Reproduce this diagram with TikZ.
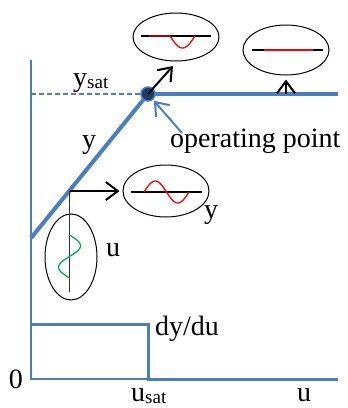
\documentclass[tikz,border=0pt]{standalone}
\usepackage{fontspec}
\setmainfont{Liberation Serif}
\usetikzlibrary{arrows.meta,shapes.geometric}
\definecolor{axblue}{RGB}{74,126,193}
\definecolor{ptblue}{RGB}{31,60,105}
\definecolor{sgreen}{RGB}{0,176,80}
\begin{document}
\begin{tikzpicture}[x=1pt,y=-1pt,
  axis/.style={draw=axblue,line width=2pt},
  curvethick/.style={draw=axblue,line width=4pt},
  bub/.style={ellipse,draw=black,line width=1pt,inner sep=0pt},
  blk/.style={-{Straight Barb[length=12pt,width=18pt,line width=2pt]},line width=2pt,black},
  bluearr/.style={-{Straight Barb[length=12pt,width=18pt,line width=2pt]},line width=2pt,axblue},
  inline/.style={line width=1.3pt,black},
  sig/.style={line width=1.3pt,red},
  gsig/.style={line width=1.3pt,sgreen},
  lbl/.style={font=\fontsize{28}{30}\selectfont,inner sep=0pt}]
\useasboundingbox (0,0) rectangle (348,408);
% coordinates
\coordinate (O) at (31,379);
\coordinate (Ytop) at (31,60);
\coordinate (Xend) at (338,379);
\coordinate (opc) at (148,94);
\coordinate (d0) at (31,238);
\coordinate (satend) at (338,94);
\coordinate (dash0) at (31,94);
\coordinate (dd0) at (31,324);
\coordinate (dd1) at (148,324);
\coordinate (dd2) at (148,379);
\coordinate (tap) at (69.5,191);
\coordinate (vbot) at (69.5,292);
\coordinate (a1) at (173,66);
\coordinate (a2s) at (286,94);
\coordinate (bs) at (182,133);
% axes
\draw[axis] (Ytop) -- (O) -- (Xend);
\draw[draw=axblue,line width=3pt] (dd0) -- (dd1) -- (dd2) -- (Xend);
\draw[draw=axblue,line width=1.5pt,dash pattern=on 5pt off 3pt] (dash0) -- (opc);
\draw[curvethick] (opc) -- (satend);
\draw[curvethick] (d0) -- (opc);
% ellipses
\node[bub,minimum width=86pt,minimum height=48pt] (top) at (176,37) {};
\node[bub,minimum width=86pt,minimum height=50pt] (right) at (286,50) {};
\node[bub,minimum width=86pt,minimum height=52pt] (mid) at (166,191) {};
\node[bub,minimum width=52pt,minimum height=86pt] (vert) at (71,257) {};
% operating point
\node[circle,fill=ptblue,draw=axblue,line width=1.5pt,minimum size=14pt,inner sep=0pt] (op) at (opc) {};
% black arrows
\draw[blk] (op.center) -- (a1);
\draw[blk,shorten >=4pt] (a2s) -- (right.south);
\draw[blk,shorten >=3pt] (tap) -- (mid.west);
\draw[line width=1.3pt,black!80] (tap) -- (vbot);
% blue arrow
\draw[bluearr,shorten >=9pt] (bs) -- (op.center);
% signals
\draw[inline] (141,36) -- (211,36);
\draw[sig] (149,36) -- (170,36) -- plot[domain=0:180,samples=30] ({170+\x/180*25},{36+12*sin(\x)});
\draw[inline] (252,50) -- (323,50);
\draw[sig] (264,50) -- (313,50);
\draw[inline] (131,192) -- (202,192);
\draw[sig] plot[domain=0:360,samples=50] ({144+\x/360*45},{192-11*sin(\x)});
\draw[gsig] plot[domain=0:360,samples=50] ({69.5+11*sin(\x)},{235+\x/360*43});
% labels
\node[lbl,anchor=base west] (ysat) at (73,86) {y\raisebox{-2pt}{\fontsize{19}{19}\selectfont sat}};
\node[lbl,anchor=base west] (ylab) at (82,148) {y};
\node[lbl,anchor=base west] (opl) at (170,147) {operating point};
\node[lbl,anchor=base west] (ymid) at (204,218) {y};
\node[lbl,anchor=base west] (ulab) at (106,256) {u};
\node[lbl,anchor=base west] (dydu) at (155,335) {dy/du};
\node[lbl,anchor=base east] (zero) at (23,388) {0};
\node[lbl,anchor=base west] (usat) at (131,401) {u\raisebox{-2pt}{\fontsize{19}{19}\selectfont sat}};
\node[lbl,anchor=base west] (ulab2) at (297,401) {u};
\end{tikzpicture}
\end{document}
